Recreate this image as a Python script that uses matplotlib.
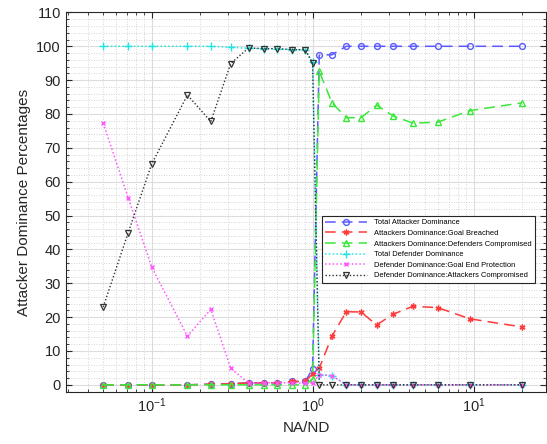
import matplotlib
matplotlib.use('Agg')
import matplotlib.pyplot as plt
from matplotlib.ticker import MultipleLocator, LogLocator, NullFormatter

## Initialize
plt.rcParams['font.family'] = ['Liberation Sans', 'DejaVu Sans']
plt.rcParams['mathtext.fontset'] = 'custom'
plt.rcParams['mathtext.rm'] = 'Liberation Sans'

## Data
na_nd = [0.05, 0.0714, 0.1, 0.1667, 0.233, 0.31, 0.4, 0.5, 0.6, 0.75, 0.9,
         1.0, 1.1, 1.32, 1.62, 2.0, 2.5, 3.15, 4.2, 6.0, 9.5, 20]
total_attacker = [0, 0, 0, 0, 0.2, 0.3, 0.6, 0.6, 0.6, 1.0, 1.0,
                  4.7, 97.4, 97.5, 100, 100, 100, 100, 100, 100, 100, 100]
goal_breached = [0, 0, 0, 0, 0.2, 0.3, 0.6, 0.6, 0.6, 1.0, 1.0,
                 3.2, 4.9, 14.4, 21.6, 21.5, 17.7, 20.8, 23.2, 22.8, 19.5, 17.1]
def_compromised = [0, 0, 0, 0, 0, 0, 0, 0, 0, 0, 0,
                   1.8, 92.6, 83.3, 78.9, 78.9, 82.6, 79.5, 77.3, 77.6, 81.0, 83.3]
total_defender = [100, 100, 100, 100, 100, 99.7, 99.4, 99.3, 99.3, 99.0, 99.0,
                  95.3, 3.0, 2.7, 0, 0, 0, 0, 0, 0, 0, 0]
goal_protection = [77.3, 55.3, 34.8, 14.4, 22.3, 4.9, 0.5, 0.6, 0.6, 0.6, 0.5,
                   0.5, 3.0, 2.7, 0, 0, 0, 0, 0, 0, 0, 0]
att_compromised = [23.0, 44.9, 65.2, 85.6, 77.8, 94.9, 99.5, 99.3, 99.3, 99.0, 99.0,
                   95.0, 0, 0, 0, 0, 0, 0, 0, 0, 0, 0]

labels = ['Total Attacker Dominance',
          'Attackers Dominance:Goal Breached',
          'Attackers Dominance:Defenders Compromised',
          'Total Defender Dominance',
          'Defender Dominance:Goal End Protection',
          'Defender Dominance:Attackers Compromised']

fig = plt.figure(figsize=(5.47, 4.44), dpi=100)
ax = fig.add_axes([0.120, 0.118, 0.879, 0.854])

## Plot series
ms = 4.2
dash = (0, (7, 4))
dot = (0, (1, 1.5))
ax.plot(na_nd, total_attacker, color='#5a5aff', linestyle=dash, lw=1.1,
        marker='o', ms=ms, mfc='none', mew=1.0, label=labels[0])
ax.plot(na_nd, goal_breached, color='#ff3a3a', linestyle=dash, lw=1.1,
        marker=(6, 2, 0), ms=ms, mew=1.0, label=labels[1])
ax.plot(na_nd, def_compromised, color='#3ae83a', linestyle=dash, lw=1.1,
        marker='^', ms=ms, mfc='none', mew=1.0, label=labels[2])
ax.plot(na_nd, total_defender, color='#22e5e5', linestyle=dot, lw=1.1,
        marker='+', ms=ms + 1, mew=1.0, label=labels[3])
ax.plot(na_nd, goal_protection, color='#ff55ff', linestyle=dot, lw=1.1,
        marker='x', ms=ms - 1, mew=1.0, label=labels[4])
ax.plot(na_nd, att_compromised, color='#333333', linestyle=dot, lw=1.0,
        marker='v', ms=ms, mfc='none', mew=0.9, label=labels[5])

## Axes, grid
ax.set_xscale('log')
ax.set_xlim(0.0292, 28.4)
ax.set_ylim(-2, 110)
ax.yaxis.set_major_locator(MultipleLocator(10))
ax.yaxis.set_minor_locator(MultipleLocator(2))
ax.xaxis.set_minor_locator(LogLocator(base=10, subs=range(2, 10)))
ax.xaxis.set_minor_formatter(NullFormatter())
ax.grid(True, which='major', color='#dcdcdc', lw=0.8, linestyle='-')
ax.grid(True, which='minor', color='#c8c8c8', lw=0.6, linestyle=(0, (1, 2)))
ax.set_axisbelow(True)
ax.tick_params(which='both', direction='in', top=True, right=True, colors='#262626')
ax.tick_params(which='major', length=4, labelsize=10.5)
ax.tick_params(which='minor', length=2)
for s in ax.spines.values():
    s.set_color('#262626')
    s.set_linewidth(0.8)

ax.set_xlabel('NA/ND', fontsize=11, color='#262626')
ax.set_ylabel('Attacker Dominance Percentages', fontsize=11, color='#262626')

leg = ax.legend(loc='upper right', bbox_to_anchor=(0.976, 0.464), borderaxespad=0,
                fontsize=5.4, numpoints=1, handlelength=5.6, fancybox=False,
                framealpha=1, edgecolor='#262626', labelspacing=0.45,
                borderpad=0.45, handletextpad=0.9)
leg.get_frame().set_linewidth(0.8)

plt.savefig('out.png', dpi=100)
